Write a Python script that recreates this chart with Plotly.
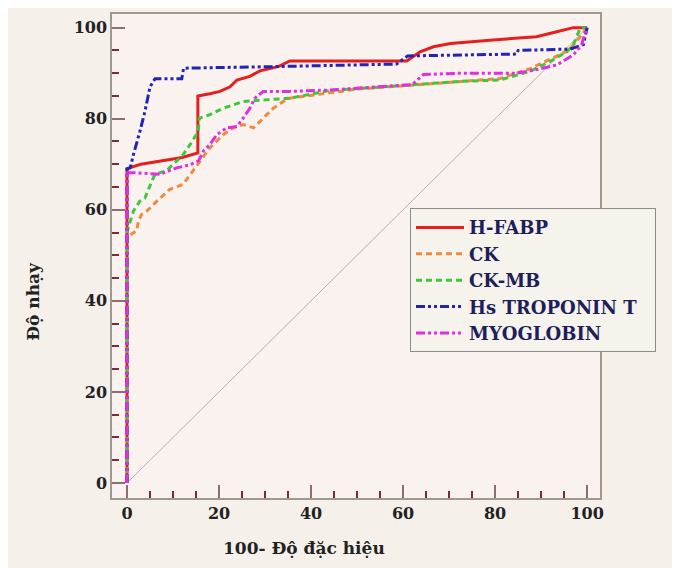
import plotly.graph_objects as go

# ---- data ----
names = ["H-FABP", "CK", "CK-MB", "Hs TROPONIN T\u00a0\u00a0", "MYOGLOBIN"]

hfabp_x = [0, 0, 0.5, 3, 6, 9, 12, 15.4, 15.4, 18, 20.2, 22.4, 23.9, 26.7, 28.9, 33, 35.4, 60.8, 63.7, 66.6, 70.3, 79.6, 89, 93.4, 97, 100]
hfabp_y = [0, 69, 69.2, 70, 70.5, 71, 71.5, 72.5, 85, 85.5, 86, 87, 88.5, 89.3, 90.5, 91.5, 92.7, 92.7, 94.7, 95.8, 96.5, 97.3, 98, 99.1, 100, 100]

ck_x = [0, 0, 2.1, 2.5, 3.2, 4.3, 6.5, 9.3, 12.2, 14.4, 15.9, 18, 20.9, 23.1, 25.3, 27.5, 29.6, 31.8, 34, 35.4, 50, 70, 81, 87.6, 92, 96, 98.5, 100]
ck_y = [0, 54, 55.4, 57.6, 59, 59.7, 61.9, 64.5, 65.6, 68.5, 70.7, 73.6, 76.5, 78, 78.7, 78, 80.2, 82.3, 83.8, 84.5, 86.5, 88, 88.8, 91, 93, 95, 98, 100]

ckmb_x = [0, 0, 0.3, 1.4, 2.8, 3.9, 5.4, 6.1, 8.6, 12.2, 13.7, 15.5, 15.7, 18, 20.9, 25.3, 35.4, 44, 60, 72.4, 81, 87.6, 92, 95.6, 97, 98.5, 100]
ckmb_y = [0, 55, 56.1, 59.7, 61.9, 62.6, 66.3, 67.8, 68.6, 72.1, 74.3, 77.2, 80.1, 80.9, 82.3, 83.8, 84.5, 86.2, 87.3, 88.2, 88.5, 90.4, 92.6, 94.7, 96.2, 99.9, 100]

tnt_x = [0, 0, 0.7, 1.4, 2.8, 3.9, 5, 6.1, 11.9, 12.3, 35, 58.6, 61, 84.7, 85, 96.3, 99.2, 100]
tnt_y = [0, 69, 69.2, 72.1, 77.2, 81.6, 87, 88.8, 88.8, 91.1, 91.5, 92, 93.8, 94.2, 95, 95.3, 96.3, 100]

myo_x = [0, 0, 0.3, 7.2, 10.8, 13.7, 15.5, 16.6, 18, 19.5, 21.7, 23.9, 25.3, 26.7, 27.8, 29.6, 35.4, 44, 62, 64.4, 72.4, 84.7, 89, 93.4, 97, 98.8, 99.6, 100]
myo_y = [0, 68.5, 68.2, 67.8, 69.2, 69.9, 70.7, 72.9, 74.3, 76.5, 78, 78.3, 80.2, 82.3, 84.5, 86, 86, 86.3, 87.5, 89.7, 90, 90, 90.8, 91.8, 94, 96.2, 99, 100]

diag_x = [0, 100]
diag_y = [0, 100]

x_ticks = [0, 20, 40, 60, 80, 100]
y_ticks = [0, 20, 40, 60, 80, 100]

colors = ["#E3201E", "#F08A3C", "#3FC63F", "#2323B5", "#E02EE0"]
dashes = ["solid", "6px,4px", "6px,4px", "9px,3px,3px,3px,3px,3px", "9px,3px,3px,3px,3px,3px"]
series = [(hfabp_x, hfabp_y), (ck_x, ck_y), (ckmb_x, ckmb_y), (tnt_x, tnt_y), (myo_x, myo_y)]

fig = go.Figure()
fig.add_trace(go.Scatter(x=diag_x, y=diag_y, mode="lines", showlegend=False,
                         line=dict(color="#B9B2AA", width=1), hoverinfo="skip"))
for n, (xs, ys), c, d in zip(names, series, colors, dashes):
    fig.add_trace(go.Scatter(x=xs, y=ys, mode="lines", name=n,
                             line=dict(color=c, width=3, dash=d)))

serif = "DejaVu Serif"
axis_common = dict(
    showgrid=False, zeroline=False, showline=True, linecolor="#A09890", linewidth=1.5,
    mirror=True, ticks="inside", ticklen=13, tickwidth=1.5, tickcolor="#8A7070",
    tickfont=dict(family=serif, size=16, color="#222222", weight="bold"),
    minor=dict(ticks="inside", ticklen=7, tickwidth=1.5, tickcolor="#7A2A3A", dtick=5),
)
fig.update_xaxes(range=[-3.26, 102.8], tickvals=x_ticks, ticktext=[str(v) for v in x_ticks], **axis_common)
fig.update_yaxes(range=[-3.3, 103], tickvals=y_ticks, ticktext=[str(v) for v in y_ticks], **axis_common)

# page body has an 8px margin, so figure coordinates are page coordinates minus 8
W, H = 672, 560
L, T = 104, 4
R = W - (600 - 8)
B = H - (498 - 8)
pw = W - L - R
ph = H - T - B

def px(xp):
    return (xp - 8 - L) / pw

def py(yp):
    return 1 - (yp - 8 - T) / ph

fig.update_layout(
    width=W, height=H,
    margin=dict(l=L, r=R, t=T, b=B),
    paper_bgcolor="#F5F1EA", plot_bgcolor="#F9F2EE",
    legend=dict(x=px(410), y=py(207), xanchor="left", yanchor="top",
                bgcolor="#F6F2EC", bordercolor="#8C8C8C", borderwidth=1,
                font=dict(family=serif, size=18, color="#1E1E5A", weight="bold"),
                itemwidth=48, tracegroupgap=0),
    annotations=[
        dict(text="100- Độ đặc hiệu", xref="paper", yref="paper", x=px(304), y=py(548),
             xanchor="center", yanchor="middle", showarrow=False,
             font=dict(family=serif, size=17, color="#222222", weight="bold")),
        dict(text="Độ nhạy", xref="paper", yref="paper", x=px(33), y=py(301),
             xanchor="center", yanchor="middle", showarrow=False, textangle=-90,
             font=dict(family=serif, size=17, color="#222222", weight="bold")),
    ],
)

fig.write_html("out.html")
